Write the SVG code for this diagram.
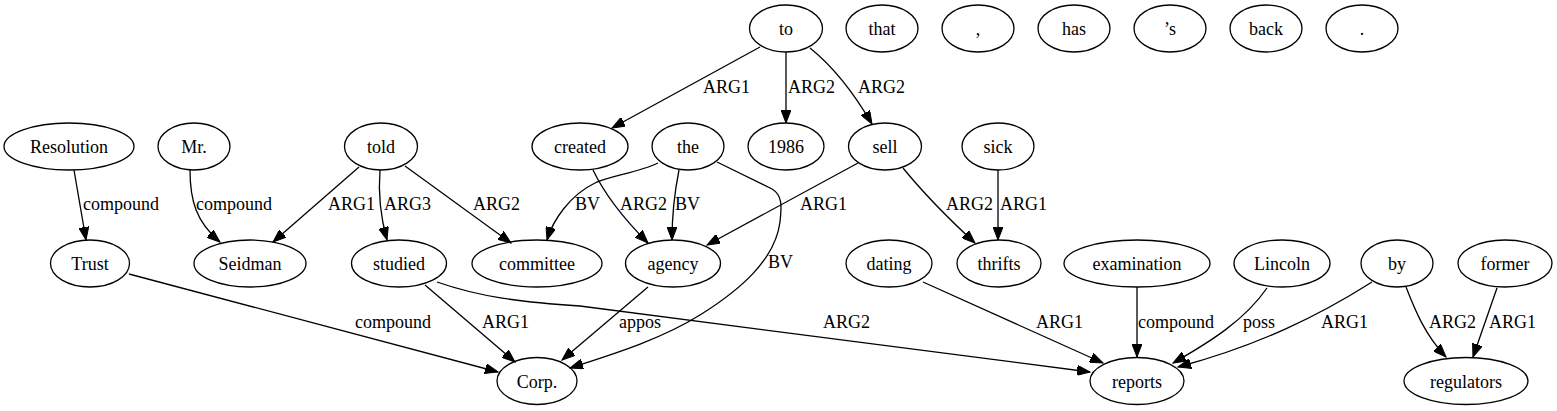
<svg xmlns="http://www.w3.org/2000/svg" width="1557" height="411" viewBox="0 0 1557 411">
<style>
.n ellipse{fill:none;stroke:#000;stroke-width:1.3}
.n text{font-family:'Liberation Serif',serif;font-size:18px;text-anchor:middle;fill:#000}
.e path{fill:none;stroke:#000;stroke-width:1.3;marker-end:url(#a)}
.e text{font-family:'Liberation Serif',serif;font-size:18px;fill:#000}
</style>
<defs>
<marker id="a" markerWidth="14" markerHeight="10" refX="13" refY="5" orient="auto" markerUnits="userSpaceOnUse"><path d="M0,0 L13,5 L0,10 z" fill="#000" stroke="#000" stroke-width="1"/></marker>
</defs>
<rect width="1557" height="411" fill="#fff"/>
<g id="n-to" class="n"><ellipse cx="786" cy="28.5" rx="36.5" ry="23.5"/><text x="786" y="35">to</text></g>
<g id="n-that" class="n"><ellipse cx="882" cy="28.5" rx="36" ry="23.5"/><text x="882" y="35">that</text></g>
<g id="n-comma" class="n"><ellipse cx="978" cy="28.5" rx="36" ry="23.5"/><text x="978" y="35">,</text></g>
<g id="n-has" class="n"><ellipse cx="1074" cy="28.5" rx="36" ry="23.5"/><text x="1074" y="35">has</text></g>
<g id="n-s" class="n"><ellipse cx="1170" cy="28.5" rx="36" ry="23.5"/><text x="1170" y="35">’s</text></g>
<g id="n-back" class="n"><ellipse cx="1266" cy="28.5" rx="36" ry="23.5"/><text x="1266" y="35">back</text></g>
<g id="n-period" class="n"><ellipse cx="1362" cy="28.5" rx="36" ry="23.5"/><text x="1362" y="35">.</text></g>

<g id="n-Resolution" class="n"><ellipse cx="69" cy="146.5" rx="65" ry="23.5"/><text x="69" y="153">Resolution</text></g>
<g id="n-Mr" class="n"><ellipse cx="194" cy="146.5" rx="36" ry="23.5"/><text x="194" y="153">Mr.</text></g>
<g id="n-told" class="n"><ellipse cx="381" cy="146.5" rx="36.5" ry="23.5"/><text x="381" y="153">told</text></g>
<g id="n-created" class="n"><ellipse cx="580" cy="146.5" rx="48" ry="23.5"/><text x="580" y="153">created</text></g>
<g id="n-the" class="n"><ellipse cx="688" cy="146.5" rx="36" ry="23.5"/><text x="688" y="153">the</text></g>
<g id="n-1986" class="n"><ellipse cx="786" cy="146.5" rx="38" ry="23.5"/><text x="786" y="153">1986</text></g>
<g id="n-sell" class="n"><ellipse cx="885" cy="146.5" rx="36.5" ry="23.5"/><text x="885" y="153">sell</text></g>
<g id="n-sick" class="n"><ellipse cx="998" cy="146.5" rx="36" ry="23.5"/><text x="998" y="153">sick</text></g>

<g id="n-Trust" class="n"><ellipse cx="90" cy="263.5" rx="39.5" ry="23.5"/><text x="90" y="270">Trust</text></g>
<g id="n-Seidman" class="n"><ellipse cx="250" cy="263.5" rx="56" ry="23.5"/><text x="250" y="270">Seidman</text></g>
<g id="n-studied" class="n"><ellipse cx="399" cy="263.5" rx="47.5" ry="23.5"/><text x="399" y="270">studied</text></g>
<g id="n-committee" class="n"><ellipse cx="537" cy="263.5" rx="65" ry="23.5"/><text x="537" y="270">committee</text></g>
<g id="n-agency" class="n"><ellipse cx="673" cy="263.5" rx="47.5" ry="23.5"/><text x="673" y="270">agency</text></g>
<g id="n-dating" class="n"><ellipse cx="889" cy="263.5" rx="43" ry="23.5"/><text x="889" y="270">dating</text></g>
<g id="n-thrifts" class="n"><ellipse cx="999" cy="263.5" rx="42" ry="23.5"/><text x="999" y="270">thrifts</text></g>
<g id="n-examination" class="n"><ellipse cx="1137" cy="263.5" rx="73" ry="23.5"/><text x="1137" y="270">examination</text></g>
<g id="n-Lincoln" class="n"><ellipse cx="1282" cy="263.5" rx="48" ry="23.5"/><text x="1282" y="270">Lincoln</text></g>
<g id="n-by" class="n"><ellipse cx="1397" cy="263.5" rx="36" ry="23.5"/><text x="1397" y="270">by</text></g>
<g id="n-former" class="n"><ellipse cx="1505" cy="263.5" rx="47" ry="23.5"/><text x="1505" y="270">former</text></g>

<g id="n-Corp" class="n"><ellipse cx="537" cy="381" rx="40" ry="23.5"/><text x="537" y="387.5">Corp.</text></g>
<g id="n-reports" class="n"><ellipse cx="1137" cy="381" rx="47" ry="23.5"/><text x="1137" y="387.5">reports</text></g>
<g id="n-regulators" class="n"><ellipse cx="1466" cy="381" rx="62" ry="23.5"/><text x="1466" y="387.5">regulators</text></g>

<g id="edges" class="e">
<path d="M74,170 L86,240"/><text x="83" y="210">compound</text>
<path d="M190,170 C190,200 196,222 220,242"/><text x="196" y="210">compound</text>
<path d="M359,167 L273,242"/><text x="328" y="210">ARG1</text>
<path d="M380,170 C378,195 380,215 387,240"/><text x="384" y="210">ARG3</text>
<path d="M405,166 L511,243"/><text x="473" y="210">ARG2</text>
<path d="M129,274 L498,372"/><text x="355" y="328">compound</text>
<path d="M425,285 L515,362"/><text x="482" y="328">ARG1</text>
<path d="M437,282 C480,297 520,302 580,306 L1090,372"/><text x="823" y="328">ARG2</text>
<path d="M760,47 L612,128"/><text x="703" y="93">ARG1</text>
<path d="M786,52 L786,123"/><text x="788" y="93">ARG2</text>
<path d="M810,48 C835,68 855,95 872,124"/><text x="858" y="93">ARG2</text>
<path d="M593,170 C605,195 625,220 648,243"/><text x="620" y="210">ARG2</text>
<path d="M658,163 C640,172 610,176 595,183 C570,195 553,220 547,240"/><text x="575" y="210">BV</text>
<path d="M679,170 C675,190 672,215 672,240"/><text x="675" y="210">BV</text>
<path d="M717,162 L772,189 C782,195 782,205 780,222 C775,260 740,290 700,315 C660,340 610,355 570,368"/><text x="768" y="268">BV</text>
<path d="M858,163 L707,245"/><text x="800" y="210">ARG1</text>
<path d="M903,168 C925,195 950,220 975,243"/><text x="946" y="210">ARG2</text>
<path d="M998,170 L998,240"/><text x="1000" y="210">ARG1</text>
<path d="M648,287 L562,360"/><text x="619" y="328">appos</text>
<path d="M923,282 L1103,363"/><text x="1036" y="328">ARG1</text>
<path d="M1137,287 L1137,357"/><text x="1138" y="328">compound</text>
<path d="M1267,288 C1245,320 1210,342 1173,363"/><text x="1243" y="328">poss</text>
<path d="M1372,282 C1320,315 1260,345 1178,367"/><text x="1321" y="328">ARG1</text>
<path d="M1406,287 C1415,310 1425,335 1446,357"/><text x="1429" y="328">ARG2</text>
<path d="M1497,288 L1473,357"/><text x="1489" y="328">ARG1</text>
</g>
</svg>
